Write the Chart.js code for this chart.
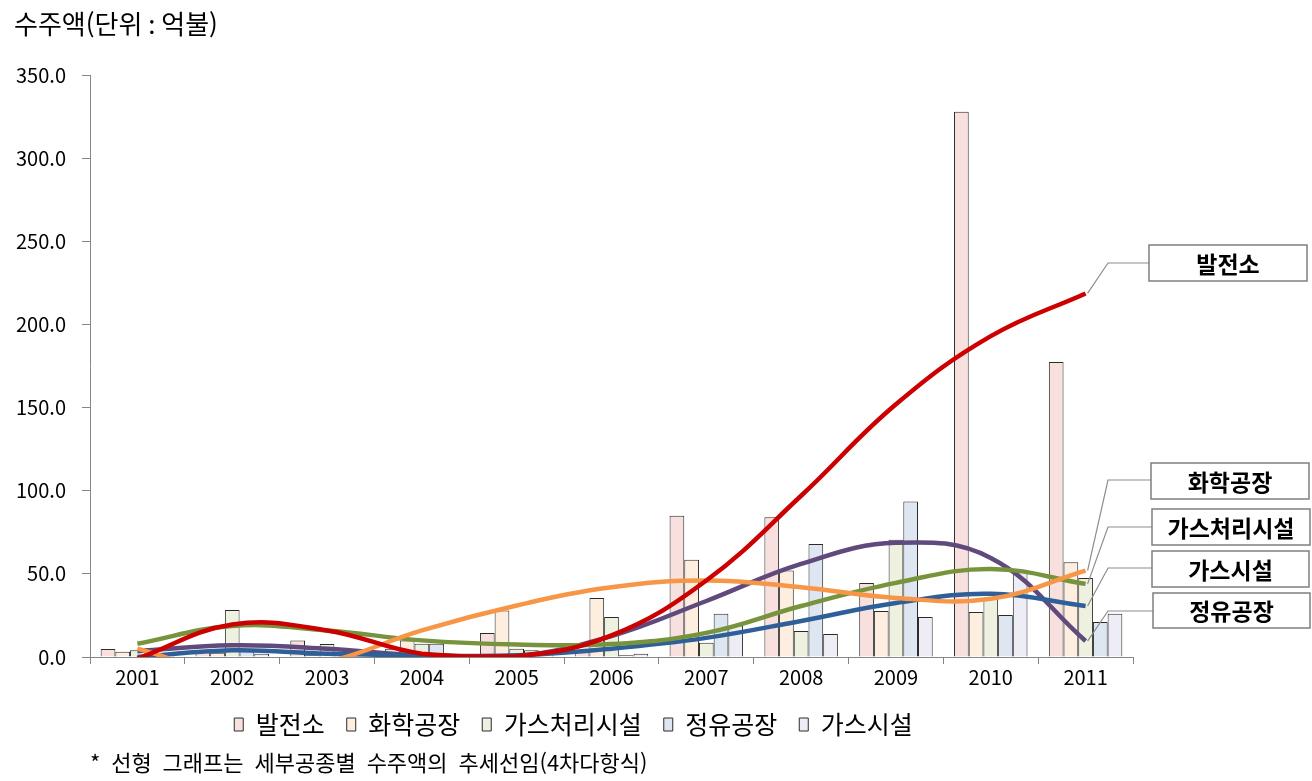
<!DOCTYPE html>
<html lang="ko">
<head>
<meta charset="utf-8">
<title>세부공종별 수주액</title>
<script src="https://cdn.jsdelivr.net/npm/chart.js@4.4.0/dist/chart.umd.min.js"></script>
<style>
  html, body { margin: 0; padding: 0; background: #fff; }
  canvas { display: block; }
</style>
</head>
<body>
<canvas id="orderChart" width="1312" height="781"></canvas>
<script>
const years = ['2001', '2002', '2003', '2004', '2005', '2006', '2007', '2008', '2009', '2010', '2011'];
const yTicks = [0, 50, 100, 150, 200, 250, 300, 350];

// 수주액 (억불), bars
const powerPlant = [4.8, 3, 10, 5, 14.5, 3, 85, 84, 44.5, 328, 177.5];
const chemPlant = [3.2, 2.5, 1, 10, 28, 35.5, 58.5, 52, 27.7, 27, 57];
const gasProcessing = [4, 28.3, 7.8, 8, 5, 24, 8.5, 15.7, 70.5, 35, 47.5];
const refinery = [2, 5, 1, 8, 4, 1, 26, 68, 93.5, 25.3, 21];
const gasFacility = [1, 2, 1, 1, 3, 2, 19, 13.8, 24, 51, 26];

// 추세선 (4차다항식) at each year
const trendPower = [-1, 19.5, 16, 2, 0.5, 13, 46, 97, 152, 193, 218.7];
const trendChem = [5, -10, -3, 16, 31, 42, 46, 42, 35.5, 35, 52];
const trendGasProcessing = [8, 18.7, 16, 10, 7.5, 7.8, 14.5, 30.7, 44.6, 53, 44];
const trendGasFacility = [0, 4, 2, 1, 1, 5, 11.5, 21.7, 32.5, 38, 30.7];
const trendRefinery = [3.5, 7, 5, 1, 0.5, 12.6, 33.7, 56, 68.7, 59.6, 9.6];

const FONT = '"Noto Sans CJK KR", "Noto Sans", sans-serif';

// label boxes on the right, linked to the last point of each trend line
const callouts = [
    { text: '발전소', dataset: 5, x: 1149, y: 245, w: 158, h: 36, lineY: 263 },
    { text: '화학공장', dataset: 6, x: 1151, y: 463, w: 158, h: 36, lineY: 480 },
    { text: '가스처리시설', dataset: 7, x: 1152, y: 509, w: 158, h: 36, lineY: 527 },
    { text: '가스시설', dataset: 8, x: 1152, y: 551, w: 157, h: 36, lineY: 568 },
    { text: '정유공장', dataset: 9, x: 1153, y: 593, w: 157, h: 35, lineY: 611 }
];

const calloutPlugin = {
    id: 'callouts',
    afterDraw(chart) {
        const ctx = chart.ctx;
        ctx.save();
        callouts.forEach(c => {
            const pts = chart.getDatasetMeta(c.dataset).data;
            const end = pts[pts.length - 1];
            ctx.strokeStyle = '#8c8c8c';
            ctx.lineWidth = 1.2;
            ctx.beginPath();
            ctx.moveTo(end.x + 2, end.y);
            ctx.lineTo(1108, c.lineY);
            ctx.lineTo(c.x, c.lineY);
            ctx.stroke();

            ctx.fillStyle = '#fff';
            ctx.fillRect(c.x, c.y, c.w, c.h);
            ctx.strokeStyle = '#7f7f7f';
            ctx.lineWidth = 1.5;
            ctx.strokeRect(c.x, c.y, c.w, c.h);

            ctx.fillStyle = '#000';
            ctx.font = 'bold 23px ' + FONT;
            ctx.textAlign = 'center';
            ctx.textBaseline = 'middle';
            ctx.fillText(c.text, c.x + c.w / 2, c.y + c.h / 2 + 1);
        });

        // footnote under the legend
        ctx.font = '22px ' + FONT;
        ctx.wordSpacing = '6px';
        ctx.textAlign = 'left';
        ctx.textBaseline = 'middle';
        ctx.fillStyle = '#000';
        ctx.fillText('* 선형 그래프는 세부공종별 수주액의 추세선임(4차다항식)', 90, 763);
        ctx.restore();
    }
};

function barSet(label, data, color) {
    return {
        type: 'bar',
        label: label,
        data: data,
        backgroundColor: color,
        borderColor: '#2b2b2b',
        borderWidth: 1,
        order: 3,
        categoryPercentage: 0.775,
        barPercentage: 1.0
    };
}

function trendSet(label, data, color, order) {
    return {
        type: 'line',
        label: label,
        data: data,
        borderColor: color,
        backgroundColor: color,
        borderWidth: 4.5,
        pointRadius: 0,
        tension: 0.4,
        fill: false,
        order: order
    };
}

const ctx = document.getElementById('orderChart').getContext('2d');
new Chart(ctx, {
    type: 'bar',
    data: {
        labels: years,
        datasets: [
            barSet('발전소', powerPlant, '#f7e0dd'),
            barSet('화학공장', chemPlant, '#fdeee0'),
            barSet('가스처리시설', gasProcessing, '#eef1df'),
            barSet('정유공장', refinery, '#dde6f1'),
            barSet('가스시설', gasFacility, '#eeedf6'),
            trendSet('발전소 추세', trendPower, '#cc0000', 0),
            trendSet('화학공장 추세', trendChem, '#f79646', 1),
            trendSet('가스처리시설 추세', trendGasProcessing, '#77933c', 1),
            trendSet('가스시설 추세', trendGasFacility, '#2f5f98', 1),
            trendSet('정유공장 추세', trendRefinery, '#5f4a7b', 1)
        ]
    },
    options: {
        responsive: false,
        animation: false,
        devicePixelRatio: 1,
        layout: {
            padding: { left: 14, right: 179, top: 0, bottom: 34 }
        },
        scales: {
            x: {
                grid: {
                    drawOnChartArea: false,
                    drawTicks: true,
                    tickLength: 7,
                    color: '#868686',
                    offset: true
                },
                border: { color: '#868686' },
                ticks: {
                    color: '#000',
                    font: { family: FONT, size: 20 },
                    padding: 1
                }
            },
            y: {
                min: 0,
                max: 350,
                afterBuildTicks: scale => {
                    scale.ticks = yTicks.map(v => ({ value: v }));
                },
                afterFit: scale => {
                    scale.width = 76;
                },
                grid: {
                    drawOnChartArea: false,
                    tickLength: 8,
                    color: '#868686'
                },
                border: { color: '#868686' },
                ticks: {
                    color: '#000',
                    font: { family: FONT, size: 20 },
                    padding: 16,
                    callback: v => Number(v).toFixed(1)
                }
            }
        },
        plugins: {
            title: {
                display: true,
                text: '수주액(단위 : 억불)',
                align: 'start',
                color: '#000',
                font: { family: FONT, size: 26, weight: 'normal' },
                padding: { top: 9, bottom: 35 }
            },
            legend: {
                position: 'bottom',
                labels: {
                    filter: item => item.datasetIndex < 5,
                    boxWidth: 9,
                    boxHeight: 13,
                    color: '#000',
                    padding: 22,
                    font: { family: FONT, size: 25 }
                }
            },
            tooltip: { enabled: false }
        }
    },
    plugins: [calloutPlugin]
});
</script>
</body>
</html>
